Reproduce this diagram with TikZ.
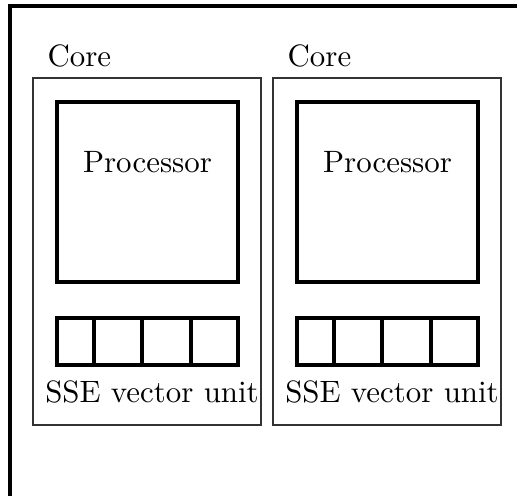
\documentclass[tikz,border=0pt]{standalone}
\begin{document}
\begin{tikzpicture}[x=0.3236pt,y=-0.3236pt,
  outerframe/.style={line width=1pt},
  corebox/.style={line width=0.35pt, draw=black!80},
  procbox/.style={line width=1pt},
  lbl/.style={inner sep=0pt, anchor=base}]
\useasboundingbox (0,0) rectangle (517,495);
\clip (0,0) rectangle (517,495);
\draw[outerframe] (10,6) rectangle (540,520);
\foreach \dx/\n in {0/a,240/b}{
  \begin{scope}[xshift=\dx*0.3236pt]
    \draw[corebox] (33,78) rectangle (261,425);
    \node[lbl, anchor=base west] (core\n) at (47,66) {Core};
    \draw[procbox] (57,102) rectangle (238,282);
    \node[lbl] (proc\n) at (147.5,172) {Processor};
    \draw[procbox] (57,318) rectangle (238,365);
    \draw[procbox] (94,318) -- (94,365) (142,318) -- (142,365) (191,318) -- (191,365);
    \node[lbl] (sse\n) at (152,402) {SSE vector unit};
  \end{scope}
}
\end{tikzpicture}
\end{document}
